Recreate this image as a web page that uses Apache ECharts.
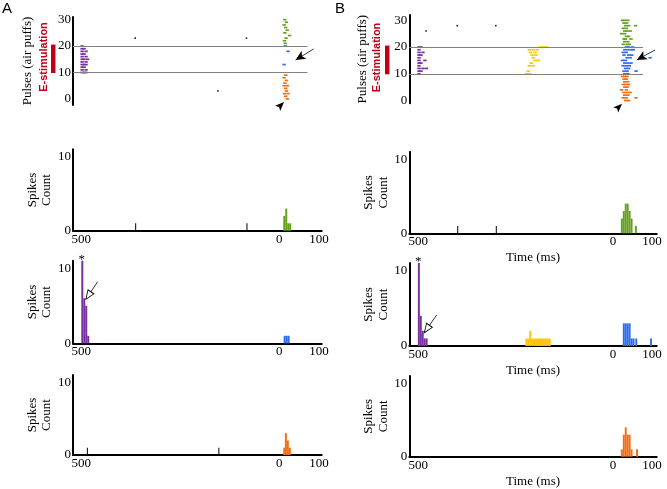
<!DOCTYPE html>
<html><head><meta charset="utf-8">
<script src="https://cdn.jsdelivr.net/npm/echarts@6/dist/echarts.min.js"></script>
<style>html,body{margin:0;padding:0;background:#fff}#c{width:667px;height:489px}</style>
</head><body><div id="c"></div>
<script>
// ================= DATA =================
const xTickValues = [-500, 0, 100];
const xTickLabels = ['500', '0', '100'];
const pulseTicks = [0, 10, 20, 30];
const countTicks = [0, 10];
const stimPulses = [10, 20];
const boundaryPulses = [10, 20];

// Raster rows: [pulse, spike time (ms), spike time, ...]
const rasterA_purple = [[10,-498,-493,-488],[11,-498,-488],[12,-498,-493],[13,-498,-493,-488],[14,-498,-488],
  [15,-498,-493,-484],[16,-498,-488],[17,-498,-493],[18,-498,-488],[19,-498,-493],[20,-498]];
const rasterA_green = [[30,14],[29,18],[28,12],[27,16],[26,20],[25,14],[24,26],[23,17],[22,13],[21,15]];
const rasterA_blue = [[20,15],[18,22],[13,12]];
const rasterA_orange = [[9,16],[8,12],[7,18],[6,14],[5,12,20],[4,16],[3,18],[2,13,22],[1,16],[0,20]];
const rasterA_spont = [[23,-364],[23,-83],[3,-155]];

const rasterB_purple = [[20,-498,-493],[19,-498],[18,-498,-488],[17,-498,-493],[16,-498],[15,-498,-483],
  [14,-498,-493],[13,-498],[12,-498,-488,-479],[11,-498,-493],[10,-498]];
const rasterB_yellow = [[20,-188,-178,-170],[19,-215,-205,-195],[18,-212,-200],[17,-208,-198],[16,-205],
  [15,-200,-192],[14,-210],[13,-215,-205],[11,-218],[10,-222,-214]];
const rasterB_green = [[30,24,30,38],[29,28,35],[28,32,40,58],[27,26,34],[26,30,36,44],[25,22,30],
  [24,34,40],[23,28,32,46],[22,30,38],[21,26,36,42]];
const rasterB_blue = [[20,34,40,50],[19,30,38,46,52],[18,26,34],[17,28,40,48],[16,36,44,95],[15,24,32],
  [14,30,38,46],[13,26,34,42],[12,32,40],[11,28,36,59],[10,30,38]];
const rasterB_orange = [[9,24,30,36],[8,28,34],[7,30,38],[6,26,32,40],[5,30,36],[4,22,34],
  [3,28,36,44],[2,30,38],[1,26,34,59],[0,32,40]];
const rasterB_spont = [[26,-480],[28,-400],[28,-301]];

// Histograms: [bin start (ms), spike count]
const histA_green = [[10,2],[15,3],[20,1],[25,1]];
const histA_spontTop = [[-364,1],[-83,1]];
const histA_purple = [[-500,11],[-495,6],[-490,5],[-485,1]];
const histA_blue = [[11,1],[16,1],[21,1]];
const histA_orange = [[10,1],[14,3],[19,2],[24,1]];
const histA_spontBot = [[-486,1],[-154,1]];

const histB_green = [[20,2],[25,3],[30,4],[35,4],[40,3],[45,2],[56,1]];
const histB_spontTop = [[-400,1],[-301,1]];
const histB_purple = [[-501,11],[-496,4],[-491,2],[-486,1],[-481,1]];
const histB_yellow = [[-225,1],[-220,1],[-215,2],[-210,1],[-205,1],[-200,1],[-195,1],[-190,1],[-185,1],[-180,1],[-175,1],[-170,1],[-165,1]];
const histB_blue = [[25,3],[30,3],[35,3],[40,3],[45,1],[50,1],[57,1],[95,1]];
const histB_orange = [[20,1],[25,3],[30,4],[35,3],[40,3],[45,1],[59,1]];

// Annotation anchors (data space: [time ms, pulse/count])
const arrowA_raster = [[86.6,18.9],[41,14.7]];
const headA_raster = [3,-2.5];
const arrowB_raster = [[107.9,18.9],[60.9,15.2]];
const headB_raster = [14,-2.5];
const starA = [-499, 11];
const starB = [-500, 11];
const openArrowA = [[-458.8,8.2],[-482.1,6.36]];
const openArrowB = [[-452.8,4.11],[-477.9,2.25]];

// ================= STYLE / LAYOUT =================
const C = {purple:'#7530a0', green:'#66a020', blue:'#2b6cf0', orange:'#f46c14', yellow:'#ffc20e', black:'#000', red:'#c00018', grid:'#808080'};
const serif = "'Liberation Serif','Times New Roman',serif";
const sans = "'Liberation Sans',Arial,sans-serif";
const BIN = 5, SPONT_BIN = 2.5;

const layout = {
  A: {left:73, width:248.7, xMin:-521, xMax:107,
      raster:{top:17, height:88, yMin:-2.3, yMax:31},
      hist:[{top:149.3,height:81.4},{top:260.7,height:82.6},{top:375,height:80}],
      pulsesGap:39, countGap:17, lineEnd:71, barOffset:-22, showTime:false,
      letter:[2,1], estim:[44.3,57], headRot:-Math.PI/4, openRot:146},
  B: {left:409.3, width:247.4, xMin:-523, xMax:112,
      raster:{top:15, height:88.3, yMin:-1.05, yMax:32},
      hist:[{top:151.7,height:81.6},{top:263,height:83},{top:376,height:80.7}],
      pulsesGap:40, countGap:18.5, lineEnd:77, barOffset:-24.3, showTime:true,
      letter:[335,1], estim:[377,57.5], headRot:-Math.PI/4, openRot:145}
};

const panelData = {
  A: {raster:[[rasterA_purple,C.purple],[rasterA_green,C.green],[rasterA_blue,C.blue],[rasterA_orange,C.orange]],
      spont:rasterA_spont, arrow:arrowA_raster, head:headA_raster, star:starA, open:openArrowA,
      hist:[[[histA_green,C.green,BIN],[histA_spontTop,C.black,SPONT_BIN]],
            [[histA_purple,C.purple,BIN],[histA_blue,C.blue,BIN]],
            [[histA_orange,C.orange,BIN],[histA_spontBot,C.black,SPONT_BIN]]]},
  B: {raster:[[rasterB_purple,C.purple],[rasterB_yellow,C.yellow],[rasterB_green,C.green],[rasterB_blue,C.blue],[rasterB_orange,C.orange]],
      spont:rasterB_spont, arrow:arrowB_raster, head:headB_raster, star:starB, open:openArrowB,
      hist:[[[histB_green,C.green,BIN],[histB_spontTop,C.black,SPONT_BIN]],
            [[histB_purple,C.purple,BIN],[histB_yellow,C.yellow,BIN],[histB_blue,C.blue,BIN]],
            [[histB_orange,C.orange,BIN]]]}
};

function flatRows(rows){const out=[];rows.forEach(r=>{for(let i=1;i<r.length;i++)out.push([r[i],r[0]]);});return out;}

const grids=[], xAxes=[], yAxes=[], series=[], graphics=[];

Object.keys(layout).forEach(key=>{
  const L = layout[key], D = panelData[key];
  // ---- raster grid ----
  const gi = grids.length;
  grids.push({left:L.left, top:L.raster.top, width:L.width, height:L.raster.height, containLabel:false});
  xAxes.push({gridIndex:gi, type:'value', min:L.xMin, max:L.xMax, show:false});
  yAxes.push({gridIndex:gi, type:'value', min:L.raster.yMin, max:L.raster.yMax,
    axisLine:{show:true, onZero:false, lineStyle:{color:'#000', width:2}},
    axisTick:{show:false}, splitLine:{show:false},
    axisLabel:{customValues:pulseTicks, color:'#000', fontFamily:serif, fontSize:13, margin:2},
    name:'Pulses (air puffs)', nameLocation:'middle', nameRotate:90, nameGap:L.pulsesGap,
    nameTextStyle:{color:'#000', fontFamily:serif, fontSize:13}});
  // boundary lines + pointer arrow
  series.push({type:'scatter', xAxisIndex:gi, yAxisIndex:gi, data:[], silent:true,
    markLine:{silent:true, symbol:'none', animation:false, label:{show:false},
      lineStyle:{color:C.grid, width:1, type:'solid'},
      data: boundaryPulses.map(p=>[{coord:[L.xMin,p]},{coord:[L.lineEnd,p]}]).concat([
        [{coord:D.arrow[0], symbol:'none', lineStyle:{color:'#000', width:0.8}},
         {coord:D.arrow[1], symbol:'arrow', symbolSize:[7,10], lineStyle:{color:'#000', width:0.8}}]
      ])}
  });
  D.raster.forEach(([rows,color])=>{
    series.push({type:'scatter', xAxisIndex:gi, yAxisIndex:gi, data:flatRows(rows), symbol:'rect',
      symbolSize:[3.4,1.7], itemStyle:{color:color, opacity:1}, silent:true, animation:false});
  });
  series.push({type:'scatter', xAxisIndex:gi, yAxisIndex:gi, data:D.spont.map(r=>[r[1],r[0]]), symbol:'rect',
    symbolSize:[1.6,1.6], itemStyle:{color:'#222', opacity:1}, silent:true, animation:false});
  // arrowhead below the raster (outside axis extent -> custom series, unclipped)
  series.push({type:'custom', xAxisIndex:gi, yAxisIndex:gi, data:[D.head], silent:true, clip:false, animation:false,
    renderItem:(params, api)=>{
      const c = api.coord([api.value(0), api.value(1)]);
      return {type:'polygon', x:c[0], y:c[1], rotation:L.headRot,
        shape:{points:[[0,-5],[3.6,4],[0,2],[-3.6,4]]}, style:{fill:'#000'}};
    }});
  // red E-stimulation bar
  series.push({type:'custom', xAxisIndex:gi, yAxisIndex:gi, data:[[stimPulses[0],stimPulses[1]]], silent:true, clip:false,
    renderItem:(params, api)=>{
      const top = api.coord([L.xMin, api.value(1)]);
      const bot = api.coord([L.xMin, api.value(0)]);
      return {type:'rect', shape:{x:top[0]+L.barOffset, y:top[1]-1.5, width:4.5, height:bot[1]-top[1]+2}, style:{fill:C.red}};
    }, animation:false});

  // ---- histograms ----
  L.hist.forEach((h, hi)=>{
    const g = grids.length;
    grids.push({left:L.left, top:h.top, width:L.width, height:h.height, containLabel:false});
    xAxes.push({gridIndex:g, type:'value', min:L.xMin, max:L.xMax,
      axisLine:{show:true, onZero:false, lineStyle:{color:'#000', width:2}},
      axisTick:{show:false}, splitLine:{show:false},
      axisLabel:{customValues:xTickValues, formatter:v=>xTickLabels[xTickValues.indexOf(v)],
        color:'#000', fontFamily:serif, fontSize:13, margin:2},
      name: L.showTime ? 'Time (ms)' : '', nameLocation:'middle', nameGap:18,
      nameTextStyle:{color:'#000', fontFamily:serif, fontSize:13}});
    yAxes.push({gridIndex:g, type:'value', min:0, max:11,
      axisLine:{show:true, onZero:false, lineStyle:{color:'#000', width:2}},
      axisTick:{show:false}, splitLine:{show:false},
      axisLabel:{customValues:countTicks, color:'#000', fontFamily:serif, fontSize:13, margin:2, padding:[0,0,8,0]},
      name:'Spikes\nCount', nameLocation:'middle', nameRotate:90, nameGap:L.countGap,
      nameTextStyle:{color:'#000', fontFamily:serif, fontSize:13, lineHeight:14.5}});
    D.hist[hi].forEach(([bins,color,w])=>{
      series.push({type:'custom', xAxisIndex:g, yAxisIndex:g, data:bins.map(b=>[b[0],b[1],w]), silent:true, animation:false,
        renderItem:(params, api)=>{
          const p0 = api.coord([api.value(0), api.value(1)]);
          const p1 = api.coord([api.value(0)+api.value(2), 0]);
          return {type:'rect', shape:{x:p0[0], y:p0[1], width:Math.max(1,p1[0]-p0[0]), height:p1[1]-p0[1]}, style:{fill:color}};
        }});
    });
    if (hi === 1) {
      series.push({type:'scatter', xAxisIndex:g, yAxisIndex:g, data:[], silent:true,
        markLine:{silent:true, symbol:'none', animation:false, label:{show:false},
          lineStyle:{color:'#000', width:0.8, type:'solid'}, data:[[{coord:D.open[0]},{coord:D.open[1]}]]},
        markPoint:{silent:true, animation:false, data:[
          {coord:D.star, symbol:'circle', symbolSize:1, itemStyle:{color:'rgba(0,0,0,0)'},
            label:{show:true, position:'top', distance:0, offset:[0,6], formatter:'*', color:'#000', fontFamily:serif, fontSize:13}},
          {coord:D.open[1], symbol:'triangle', symbolSize:[7,9], symbolRotate:L.openRot,
            itemStyle:{color:'#fff', borderColor:'#000', borderWidth:0.9}, label:{show:false}}
        ]}});
    }
  });

  graphics.push({type:'text', x:L.letter[0], y:L.letter[1], style:{text:key, font:'15px '+sans, fill:'#000'}});
  graphics.push({type:'text', x:L.estim[0], y:L.estim[1], rotation:Math.PI/2,
    style:{text:'E-stimulation', font:'bold 11px '+sans, fill:C.red, align:'center', verticalAlign:'middle'}});
});

const chart = echarts.init(document.getElementById('c'));
chart.setOption({animation:false, backgroundColor:'#fff', grid:grids, xAxis:xAxes, yAxis:yAxes, series:series, graphic:graphics});
</script></body></html>
